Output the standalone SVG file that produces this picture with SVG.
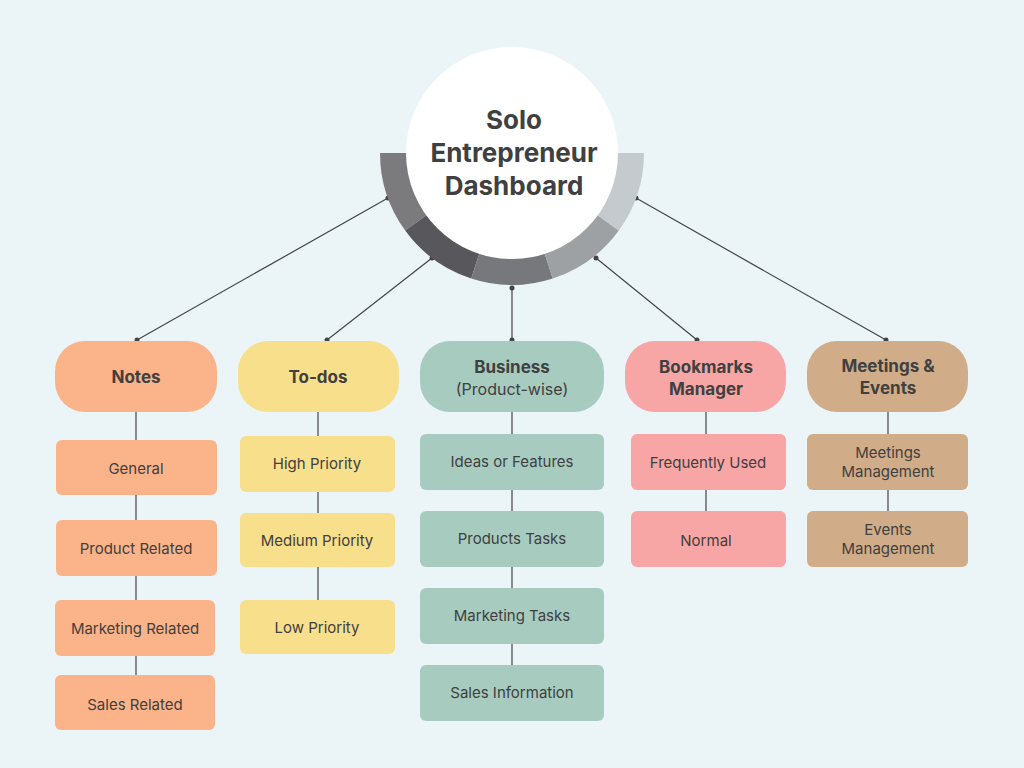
<svg xmlns="http://www.w3.org/2000/svg" width="1024" height="768" viewBox="0 0 1024 768">
<style>
text{font-family:Inter,"Open Sans",sans-serif;fill:#404040;text-anchor:middle}
.h{font-size:17px;font-weight:bold}
.c{font-size:15px}
.l{stroke:#444;stroke-width:1.2;fill:none}
.o{fill:#fbb48a}.y{fill:#f8df8b}.g{fill:#a8cbbf}.p{fill:#f7a6a5}.t{fill:#d1ac88}
</style>
<defs><marker id="d" markerWidth="6" markerHeight="6" refX="3" refY="3" markerUnits="userSpaceOnUse"><circle cx="3" cy="3" r="2.5" fill="#444"/></marker></defs>
<rect width="1024" height="768" fill="#ebf5f7"/>
<g id="connectors">
<line class="l" x1="388" y1="198" x2="137" y2="340" marker-start="url(#d)" marker-end="url(#d)"/>
<line class="l" x1="432" y1="258" x2="327" y2="340" marker-start="url(#d)" marker-end="url(#d)"/>
<line class="l" x1="512" y1="288" x2="512" y2="340" marker-start="url(#d)" marker-end="url(#d)"/>
<line class="l" x1="596" y1="258" x2="697" y2="340" marker-start="url(#d)" marker-end="url(#d)"/>
<line class="l" x1="636" y1="198" x2="886" y2="340" marker-start="url(#d)" marker-end="url(#d)"/>
<line class="l" x1="136" y1="412" x2="136" y2="675"/>
<line class="l" x1="318" y1="412" x2="318" y2="600"/>
<line class="l" x1="512" y1="412" x2="512" y2="665"/>
<line class="l" x1="706" y1="412" x2="706" y2="511"/>
<line class="l" x1="888" y1="412" x2="888" y2="511"/>
</g>
<g id="hub">
<path d="M380 153 L407 153 A105 105 0 0 0 427.1 214.7 L405.2 230.6 A132 132 0 0 1 380 153Z" fill="#7b7b7e"/>
<path d="M405.2 230.6 L427.1 214.7 A105 105 0 0 0 479.6 252.9 L471.2 278.5 A132 132 0 0 1 405.2 230.6Z" fill="#58585c"/>
<path d="M471.2 278.5 L479.6 252.9 A105 105 0 0 0 544.4 252.9 L552.8 278.5 A132 132 0 0 1 471.2 278.5Z" fill="#77787b"/>
<path d="M552.8 278.5 L544.4 252.9 A105 105 0 0 0 596.9 214.7 L618.8 230.6 A132 132 0 0 1 552.8 278.5Z" fill="#9ea1a4"/>
<path d="M618.8 230.6 L596.9 214.7 A105 105 0 0 0 617 153 L644 153 A132 132 0 0 1 618.8 230.6Z" fill="#c4cacd"/>
<circle cx="512" cy="153" r="106" fill="#fff"/>
<text x="514" y="129" style="font-size:26px;font-weight:bold">Solo</text>
<text x="514" y="162" style="font-size:26px;font-weight:bold">Entrepreneur</text>
<text x="514" y="195" style="font-size:26px;font-weight:bold">Dashboard</text>
</g>
<g id="notes"><rect class="o" x="55" y="341" width="162" height="71" rx="30"/><text class="h" x="136" y="383">Notes</text></g>
<g id="todos"><rect class="y" x="238" y="341" width="161" height="71" rx="30"/><text class="h" x="318" y="383">To-dos</text></g>
<g id="business"><rect class="g" x="420" y="341" width="184" height="71" rx="30"/><text class="h" x="512" y="373">Business</text><text x="512" y="395" style="font-size:16px">(Product-wise)</text></g>
<g id="bookmarks"><rect class="p" x="625" y="341" width="161" height="71" rx="30"/><text class="h" x="706" y="373">Bookmarks</text><text class="h" x="706" y="395">Manager</text></g>
<g id="meetings"><rect class="t" x="807" y="341" width="161" height="71" rx="30"/><text class="h" x="888" y="372">Meetings &amp;</text><text class="h" x="888" y="394">Events</text></g>
<g id="n1"><rect class="o" x="56" y="440" width="161" height="55" rx="6"/><text class="c" x="136" y="474">General</text></g>
<g id="n2"><rect class="o" x="56" y="520" width="161" height="56" rx="6"/><text class="c" x="136" y="554">Product Related</text></g>
<g id="n3"><rect class="o" x="55" y="600" width="160" height="56" rx="6"/><text class="c" x="135" y="634">Marketing Related</text></g>
<g id="n4"><rect class="o" x="55" y="675" width="160" height="55" rx="6"/><text class="c" x="135" y="710">Sales Related</text></g>
<g id="t1"><rect class="y" x="240" y="436" width="155" height="56" rx="6"/><text class="c" x="317" y="469">High Priority</text></g>
<g id="t2"><rect class="y" x="240" y="513" width="155" height="54" rx="6"/><text class="c" x="317" y="546">Medium Priority</text></g>
<g id="t3"><rect class="y" x="240" y="600" width="155" height="54" rx="6"/><text class="c" x="317" y="633">Low Priority</text></g>
<g id="b1"><rect class="g" x="420" y="434" width="184" height="56" rx="6"/><text class="c" x="512" y="467">Ideas or Features</text></g>
<g id="b2"><rect class="g" x="420" y="511" width="184" height="56" rx="6"/><text class="c" x="512" y="544">Products Tasks</text></g>
<g id="b3"><rect class="g" x="420" y="588" width="184" height="56" rx="6"/><text class="c" x="512" y="621">Marketing Tasks</text></g>
<g id="b4"><rect class="g" x="420" y="665" width="184" height="56" rx="6"/><text class="c" x="512" y="698">Sales Information</text></g>
<g id="k1"><rect class="p" x="631" y="434" width="155" height="56" rx="6"/><text class="c" x="708" y="468">Frequently Used</text></g>
<g id="k2"><rect class="p" x="631" y="511" width="155" height="56" rx="6"/><text class="c" x="706" y="546">Normal</text></g>
<g id="m1"><rect class="t" x="807" y="434" width="161" height="56" rx="6"/><text class="c" x="888" y="458">Meetings</text><text class="c" x="888" y="477">Management</text></g>
<g id="m2"><rect class="t" x="807" y="511" width="161" height="56" rx="6"/><text class="c" x="888" y="535">Events</text><text class="c" x="888" y="554">Management</text></g>
</svg>
